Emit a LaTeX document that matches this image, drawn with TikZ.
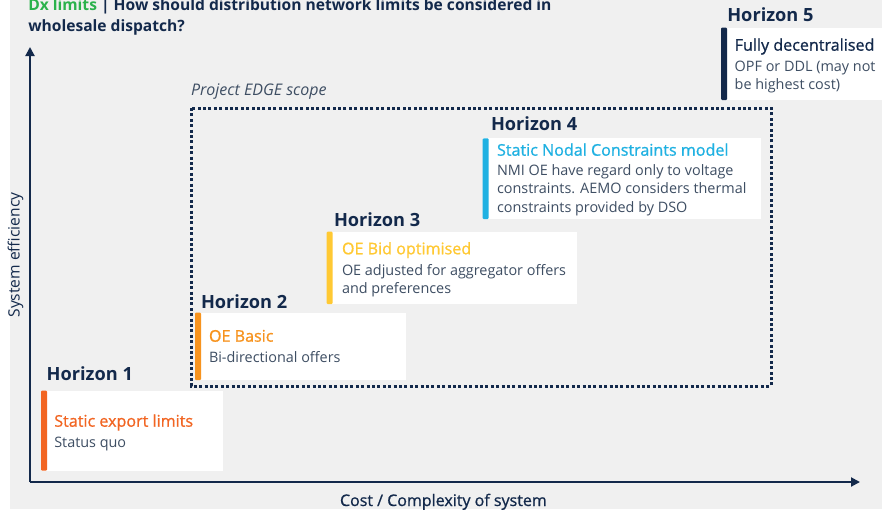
\documentclass[tikz,border=0pt]{standalone}
\usepackage{fontspec}
\setmainfont{Open Sans}
\newfontfamily\semib{Open Sans}[FakeBold=0.9]
\usetikzlibrary{arrows.meta}
\definecolor{bgc}{HTML}{F0F0F0}
\definecolor{navy}{HTML}{13294B}
\definecolor{bodyc}{HTML}{3E4E63}
\definecolor{dxgreen}{HTML}{2BB24C}
\definecolor{hredc}{HTML}{F26522}
\definecolor{horangec}{HTML}{F7931E}
\definecolor{hyellowc}{HTML}{FFC933}
\definecolor{hcyanc}{HTML}{1FB1E2}
\tikzset{
  lbl/.style={anchor=base west, inner sep=0, outer sep=0},
  hzn/.style={lbl, text=navy, font=\fontsize{18.2}{22}\selectfont\bfseries},
  ctitle/.style={lbl, font=\fontsize{16.1}{18}\semib},
  cbody/.style={lbl, text=bodyc, font=\fontsize{14.4}{18}\selectfont},
  card/.style={anchor=north west, fill=white, draw=none, inner sep=0, outer sep=0},
  cardbar/.style={anchor=north west, fill=#1, draw=none, inner sep=0, outer sep=0,
    minimum width=6pt, rounded corners=1pt},
  axis/.style={draw=navy, line width=2pt, -{Triangle[length=9pt,width=9pt]}},
  scope box/.style={draw=navy, line width=3pt, dash pattern=on 3pt off 2.4pt},
}
\begin{document}
\begin{tikzpicture}[x=1pt,y=-1pt]
\useasboundingbox (0,0) rectangle (882,509);
\fill[white] (0,0) rectangle (882,509);
\fill[bgc] (10,0) rectangle (882,509);

% heading
\node[lbl, font=\fontsize{15.6}{21.7}\selectfont\bfseries, text=navy] (ttl1) at (28.3,10)
  {\textcolor{dxgreen}{Dx limits} | How should distribution network limits be considered in};
\node[lbl, font=\fontsize{15.6}{21.7}\selectfont\bfseries, text=navy] (ttl2) at (28.3,31)
  {wholesale dispatch?};

% axes
\coordinate (origin) at (30,482);
\coordinate (ytip) at (30,47);
\coordinate (xtip) at (860,482);
\draw[axis] (origin) -- (ytip);
\draw[axis] (origin) -- (xtip);
\node[text=navy, rotate=90, inner sep=0, font=\fontsize{15.6}{16}\selectfont] (ylab) at (15.5,255) {System efficiency};
\node[lbl, text=navy, font=\fontsize{16}{16}\semib] (xlab) at (340,506) {Cost / Complexity of system};

% project scope
\draw[scope box] (191,108) rectangle (771,386);
\node[lbl, text=bodyc, font=\fontsize{16}{16}\selectfont\itshape] (scope) at (191,95) {Project EDGE scope};

% Horizon 1
\node[hzn] (h1) at (46.7,380.7) {Horizon 1};
\node[card, minimum width=182pt, minimum height=80pt] (c1) at (41,390.7) {};
\node[cardbar=hredc, minimum height=80pt] (b1) at (c1.north west) {};
\node[ctitle, text=hredc] (t1) at (54.3,426.7) {Static export limits};
\node[cbody] (d1a) at (54.3,447.3) {Status quo};

% Horizon 2
\node[hzn] (h2) at (201,308.3) {Horizon 2};
\node[card, minimum width=210.7pt, minimum height=67.3pt] (c2) at (195,312.7) {};
\node[cardbar=horangec, minimum height=67.3pt] (b2) at (c2.north west) {};
\node[ctitle, text=horangec] (t2) at (209,341.7) {OE Basic};
\node[cbody] (d2a) at (209,362.7) {Bi-directional offers};

% Horizon 3
\node[hzn] (h3) at (334,226) {Horizon 3};
\node[card, minimum width=250.3pt, minimum height=72.3pt] (c3) at (326.7,231.7) {};
\node[cardbar=hyellowc, minimum height=72.3pt] (b3) at (c3.north west) {};
\node[ctitle, text=hyellowc] (t3) at (342,254.3) {OE Bid optimised};
\node[cbody] (d3a) at (342,275.7) {OE adjusted for aggregator offers};
\node[cbody] (d3b) at (342,293.3) {and preferences};

% Horizon 4
\node[hzn] (h4) at (491,130) {Horizon 4};
\node[card, minimum width=278pt, minimum height=80.7pt] (c4) at (482.7,138.3) {};
\node[cardbar=hcyanc, minimum height=80.7pt] (b4) at (c4.north west) {};
\node[ctitle, text=hcyanc] (t4) at (497,155.7) {Static Nodal Constraints model};
\node[cbody] (d4a) at (497,175) {NMI OE have regard only to voltage};
\node[cbody] (d4b) at (497,193.5) {constraints. AEMO considers thermal};
\node[cbody] (d4c) at (497,212) {constraints provided by DSO};

% Horizon 5
\node[hzn] (h5) at (727.3,21) {Horizon 5};
\node[card, minimum width=161pt, minimum height=72.3pt] (c5) at (721,27.7) {};
\node[cardbar=navy, minimum height=72.3pt] (b5) at (c5.north west) {};
\node[ctitle, text=navy] (t5) at (734.7,50.7) {Fully decentralised};
\node[cbody] (d5a) at (734.7,71.7) {OPF or DDL (may not};
\node[cbody] (d5b) at (734.7,89.3) {be highest cost)};
\end{tikzpicture}
\end{document}
